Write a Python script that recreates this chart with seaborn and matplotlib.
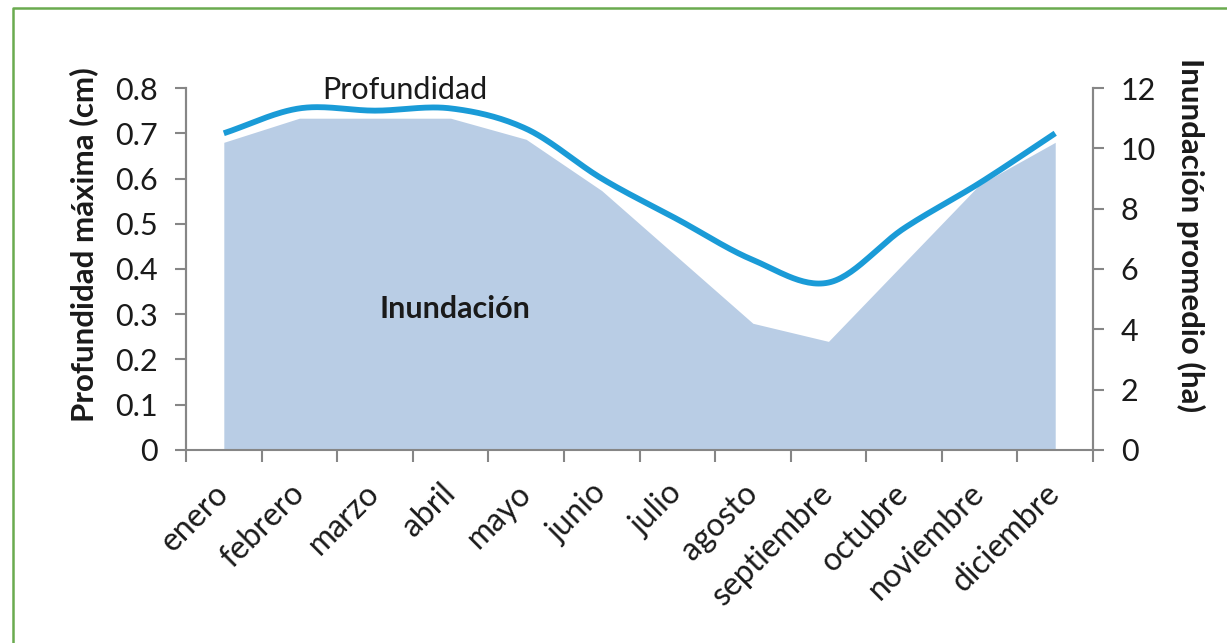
import numpy as np
import pandas as pd
import matplotlib
matplotlib.use("Agg")
import matplotlib.pyplot as plt
from matplotlib.lines import Line2D
import seaborn as sns

# Monthly data
meses = ["enero", "febrero", "marzo", "abril", "mayo", "junio", "julio",
         "agosto", "septiembre", "octubre", "noviembre", "diciembre"]
profundidad_cm = [0.70, 0.755, 0.75, 0.755, 0.71, 0.60, 0.51, 0.42, 0.37, 0.49, 0.59, 0.70]
inundacion_ha = [10.2, 11.0, 11.0, 11.0, 10.3, 8.6, 6.4, 4.2, 3.6, 6.2, 8.8, 10.2]

izq_ticks = [0, 0.1, 0.2, 0.3, 0.4, 0.5, 0.6, 0.7, 0.8]
izq_labels = ["0", "0.1", "0.2", "0.3", "0.4", "0.5", "0.6", "0.7", "0.8"]
der_ticks = [0, 2, 4, 6, 8, 10, 12]

sns.set_theme(style="white")
plt.rcParams["font.family"] = ["Lato", "DejaVu Sans"]

AXIS_GREY = "#868686"
AREA_BLUE = "#b9cde5"
LINE_BLUE = "#1a9bd7"
TXT = "#1a1a1a"


def cardinal_spline(x, y, n=30, tension=0.5):
    """Smooth curve through the given points (Catmull-Rom style)."""
    x = np.asarray(x, float)
    y = np.asarray(y, float)
    px = np.concatenate([[2 * x[0] - x[1]], x, [2 * x[-1] - x[-2]]])
    py = np.concatenate([[2 * y[0] - y[1]], y, [2 * y[-1] - y[-2]]])
    xs, ys = [], []
    t = np.linspace(0, 1, n, endpoint=False)
    for i in range(1, len(px) - 2):
        m1x = tension * (px[i + 1] - px[i - 1])
        m1y = tension * (py[i + 1] - py[i - 1])
        m2x = tension * (px[i + 2] - px[i])
        m2y = tension * (py[i + 2] - py[i])
        h00 = 2 * t**3 - 3 * t**2 + 1
        h10 = t**3 - 2 * t**2 + t
        h01 = -2 * t**3 + 3 * t**2
        h11 = t**3 - t**2
        xs.append(h00 * px[i] + h10 * m1x + h01 * px[i + 1] + h11 * m2x)
        ys.append(h00 * py[i] + h10 * m1y + h01 * py[i + 1] + h11 * m2y)
    xs.append([x[-1]])
    ys.append([y[-1]])
    return np.concatenate(xs), np.concatenate(ys)


df = pd.DataFrame({"mes": meses, "pos": np.arange(len(meses)),
                   "profundidad": profundidad_cm, "inundacion": inundacion_ha})

fig = plt.figure(figsize=(12.27, 6.43), dpi=100)
fig.patch.set_facecolor("white")

# Area (ha) on the base axes, its scale shown on the right
ax = fig.add_axes([0.1516, 0.3002, 0.7392, 0.5629])
ax.fill_between(df["pos"], 0, df["inundacion"], color=AREA_BLUE, linewidth=0, zorder=1)
ax.set_ylim(0, 12)
ax.set_xlim(-0.5, len(meses) - 0.5)

# Depth line (cm) on a twin axes, its scale shown on the left
ax2 = ax.twinx()
sx, sy = cardinal_spline(df["pos"], df["profundidad"])
smooth = pd.DataFrame({"x": sx, "y": sy})
sns.lineplot(data=smooth, x="x", y="y", ax=ax2, color=LINE_BLUE, linewidth=4.2,
             sort=False, estimator=None, solid_capstyle="butt")
ax2.set_ylim(0, 0.8)
ax.set_xlim(-0.5, len(meses) - 0.5)

# Swap sides so the line is drawn on top of the area
ax.yaxis.tick_right()
ax.yaxis.set_label_position("right")
ax2.yaxis.tick_left()
ax2.yaxis.set_label_position("left")

ax2.set_yticks(izq_ticks)
ax2.set_yticklabels(izq_labels)
ax.set_yticks(der_ticks)
ax.set_yticklabels([str(v) for v in der_ticks])

# Category axis: tick marks between months, labels at month centres
ax.set_xticks(np.arange(-0.5, len(meses)), minor=True)
ax.set_xticks(df["pos"])
ax.set_xticklabels(meses, rotation=45, ha="right", rotation_mode="anchor", va="center")
ax.tick_params(axis="x", which="major", length=0, pad=28, labelsize=23, labelcolor=TXT,
               bottom=True, labelbottom=True)
ax.tick_params(axis="x", which="minor", length=8.5, width=1.5, color=AXIS_GREY,
               direction="out", bottom=True)
ax.set_xlabel("")
ax2.set_xlabel("")

ax.tick_params(axis="y", length=8, width=1.5, color=AXIS_GREY, labelsize=22, labelcolor=TXT, pad=12)
ax2.tick_params(axis="y", length=8, width=1.5, color=AXIS_GREY, labelsize=22, labelcolor=TXT, pad=12)

for a in (ax, ax2):
    a.spines["top"].set_visible(False)
    for side in ("left", "right", "bottom"):
        a.spines[side].set_color(AXIS_GREY)
        a.spines[side].set_linewidth(1.5)
    a.set_facecolor("none")
    a.grid(False)
ax2.spines["bottom"].set_visible(False)

ax2.set_ylabel("Profundidad máxima (cm)", fontsize=22.5, fontweight="bold", color=TXT,
               va="center")
ax2.yaxis.set_label_coords(-0.113, 0.566)
ax.set_ylabel("Inundación promedio (ha)", fontsize=22.5, fontweight="bold", color=TXT,
              rotation=-90, va="center")
ax.yaxis.set_label_coords(1.107, 0.594)

# Series labels
ax2.text(2.40, 0.776, "Profundidad", fontsize=22, color=TXT, ha="center", va="baseline")
ax.text(3.06, 4.375, "Inundación", fontsize=22, fontweight="bold", color=TXT,
        ha="center", va="baseline")

# Green frame along the top and left edges
fig.add_artist(Line2D([13 / 1227, 13 / 1227, 1.0], [0.0, 1 - 8 / 643, 1 - 8 / 643],
                      transform=fig.transFigure, color="#6aab4f", linewidth=1.8))

fig.savefig("out.png", dpi=100, facecolor="white")
